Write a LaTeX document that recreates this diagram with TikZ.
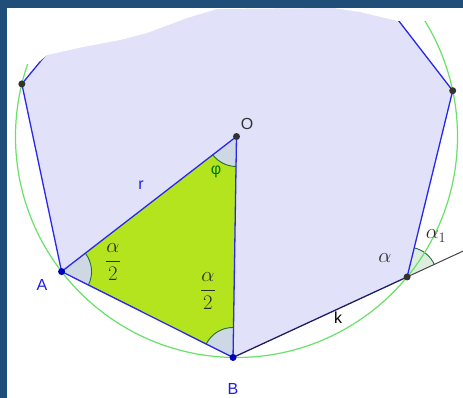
\documentclass[tikz,border=0pt]{standalone}
\usepackage{fontspec}
\setsansfont{Liberation Sans}
\usetikzlibrary{calc}
\definecolor{frameblue}{RGB}{31,78,121}
\definecolor{polyfill}{RGB}{225,225,250}
\definecolor{edgeblue}{RGB}{40,40,235}
\definecolor{trifill}{RGB}{180,228,30}
\definecolor{anglefill}{RGB}{205,216,228}
\definecolor{anglefillg}{RGB}{222,238,222}
\definecolor{anglestroke}{RGB}{30,110,60}
\definecolor{circgreen}{RGB}{105,224,105}
\definecolor{navy}{RGB}{30,30,100}
\definecolor{extgray}{RGB}{70,70,70}
\definecolor{ptgray}{RGB}{50,50,50}
\definecolor{ptblue}{RGB}{0,0,190}
\definecolor{lblblue}{RGB}{30,30,230}
\definecolor{phigreen}{RGB}{0,120,0}
\definecolor{mathgray}{RGB}{45,45,45}
\begin{document}
\begin{tikzpicture}[x=1pt,y=-1pt,
  edge/.style={draw=edgeblue, line width=1.3pt},
  lbl/.style={font=\sffamily\fontsize{16}{16}\selectfont, inner sep=0pt},
  mlbl/.style={font=\huge, inner sep=0pt, text=mathgray},
  dot/.style={circle, fill=#1, inner sep=0pt, minimum size=7pt},
  anglearc/.style={draw=anglestroke, line width=0.9pt}]
\useasboundingbox (0,0) rectangle (463,398);
\fill[white] (0,0) rectangle (463,398);
\begin{scope}
\clip (7,8) rectangle (463,398);
\coordinate (O) at (236.5,136.5);
\coordinate (B) at ($(O)+(-269.1:221)$);
\coordinate (A) at ($(O)+(-217.67:221)$);
\coordinate (UL) at ($(O)+(-166.24:221)$);
\coordinate (T1) at ($(O)+(-114.81:221)$);
\coordinate (T2) at ($(O)+(-63.39:221)$);
\coordinate (UR) at ($(O)+(-11.96:221)$);
\coordinate (C) at ($(O)+(-320.53:221)$);
\coordinate (E) at ($(B)!1.6!(C)$);
% polygon and triangle fills
\fill[polyfill] (B) -- (A) -- (UL) -- (T1) -- (T2) -- (UR) -- (C) -- cycle;
\fill[trifill] (O) -- (A) -- (B) -- cycle;
% angle sectors
\fill[anglefill] (A) -- ++(-37.6:30) arc[start angle=-37.6, end angle=26.6, radius=30] -- cycle;
\draw[anglearc] ($(A)+(-37.6:30)$) arc[start angle=-37.6, end angle=26.6, radius=30];
\fill[anglefill] (B) -- ++(206.6:30) arc[start angle=206.6, end angle=270.9, radius=30] -- cycle;
\draw[anglearc] ($(B)+(206.6:30)$) arc[start angle=206.6, end angle=270.9, radius=30];
\fill[anglefill] (O) -- ++(90.9:30) arc[start angle=90.9, end angle=142.4, radius=30] -- cycle;
\draw[anglearc] ($(O)+(90.9:30)$) arc[start angle=90.9, end angle=142.4, radius=30];
\fill[anglefillg] (C) -- ++(-76.2:30) arc[start angle=-76.2, end angle=-24.8, radius=30] -- cycle;
\draw[anglearc] ($(C)+(-76.2:30)$) arc[start angle=-76.2, end angle=-24.8, radius=30];
% circumcircle
\draw[circgreen, line width=1.2pt] (O) circle[radius=221];
% edges
\draw[extgray, line width=1pt] (C) -- (E);
\draw[edge] (O) -- (A);
\draw[edge] (O) -- (B);
\draw[edge] (B) -- (A) -- (UL) -- (T1);
\draw[edge] (T2) -- (UR) -- (C);
\draw[navy, line width=1.3pt] (B) -- (C);
% erased top part
\fill[white] (7,8) -- (7,64) -- (28,64) -- (40,61) -- (47,55) -- (83,47)
  -- (120,40) -- (147,33) -- (187,18) -- (217,9) -- (333,8) -- (360,12)
  -- (398,21) -- (463,21) -- (463,8) -- cycle;
\end{scope}
% frame (top and left bands)
\fill[frameblue] (0,0) rectangle (463,8);
\fill[frameblue] (0,0) rectangle (7,398);
% points
\node[dot=ptgray] (Op) at (O) {};
\node[dot=ptblue] (Ap) at (A) {};
\node[dot=ptblue] (Bp) at (B) {};
\node[dot=ptgray] (Cp) at (C) {};
\node[dot=ptgray] (ULp) at (UL) {};
\node[dot=ptgray] (URp) at (UR) {};
% labels
\node[lbl, text=ptgray] (Ol) at (247,124) {O};
\node[lbl, text=lblblue] (rl) at (141,185) {r};
\node[lbl, text=phigreen] (phil) at (216,172) {φ};
\node[lbl, text=lblblue] (Al) at (42,285) {A};
\node[lbl, text=lblblue] (Bl) at (233,389) {B};
\node[lbl, text=black] (kl) at (338,318) {k};
\node[mlbl] (a2l) at (113,262) {$\displaystyle\frac{\alpha}{2}$};
\node[mlbl] (a2r) at (208,291) {$\displaystyle\frac{\alpha}{2}$};
\node[mlbl] (al) at (385,258) {$\alpha$};
\node[mlbl] (a1l) at (436,236) {$\alpha_1$};
\end{tikzpicture}
\end{document}
